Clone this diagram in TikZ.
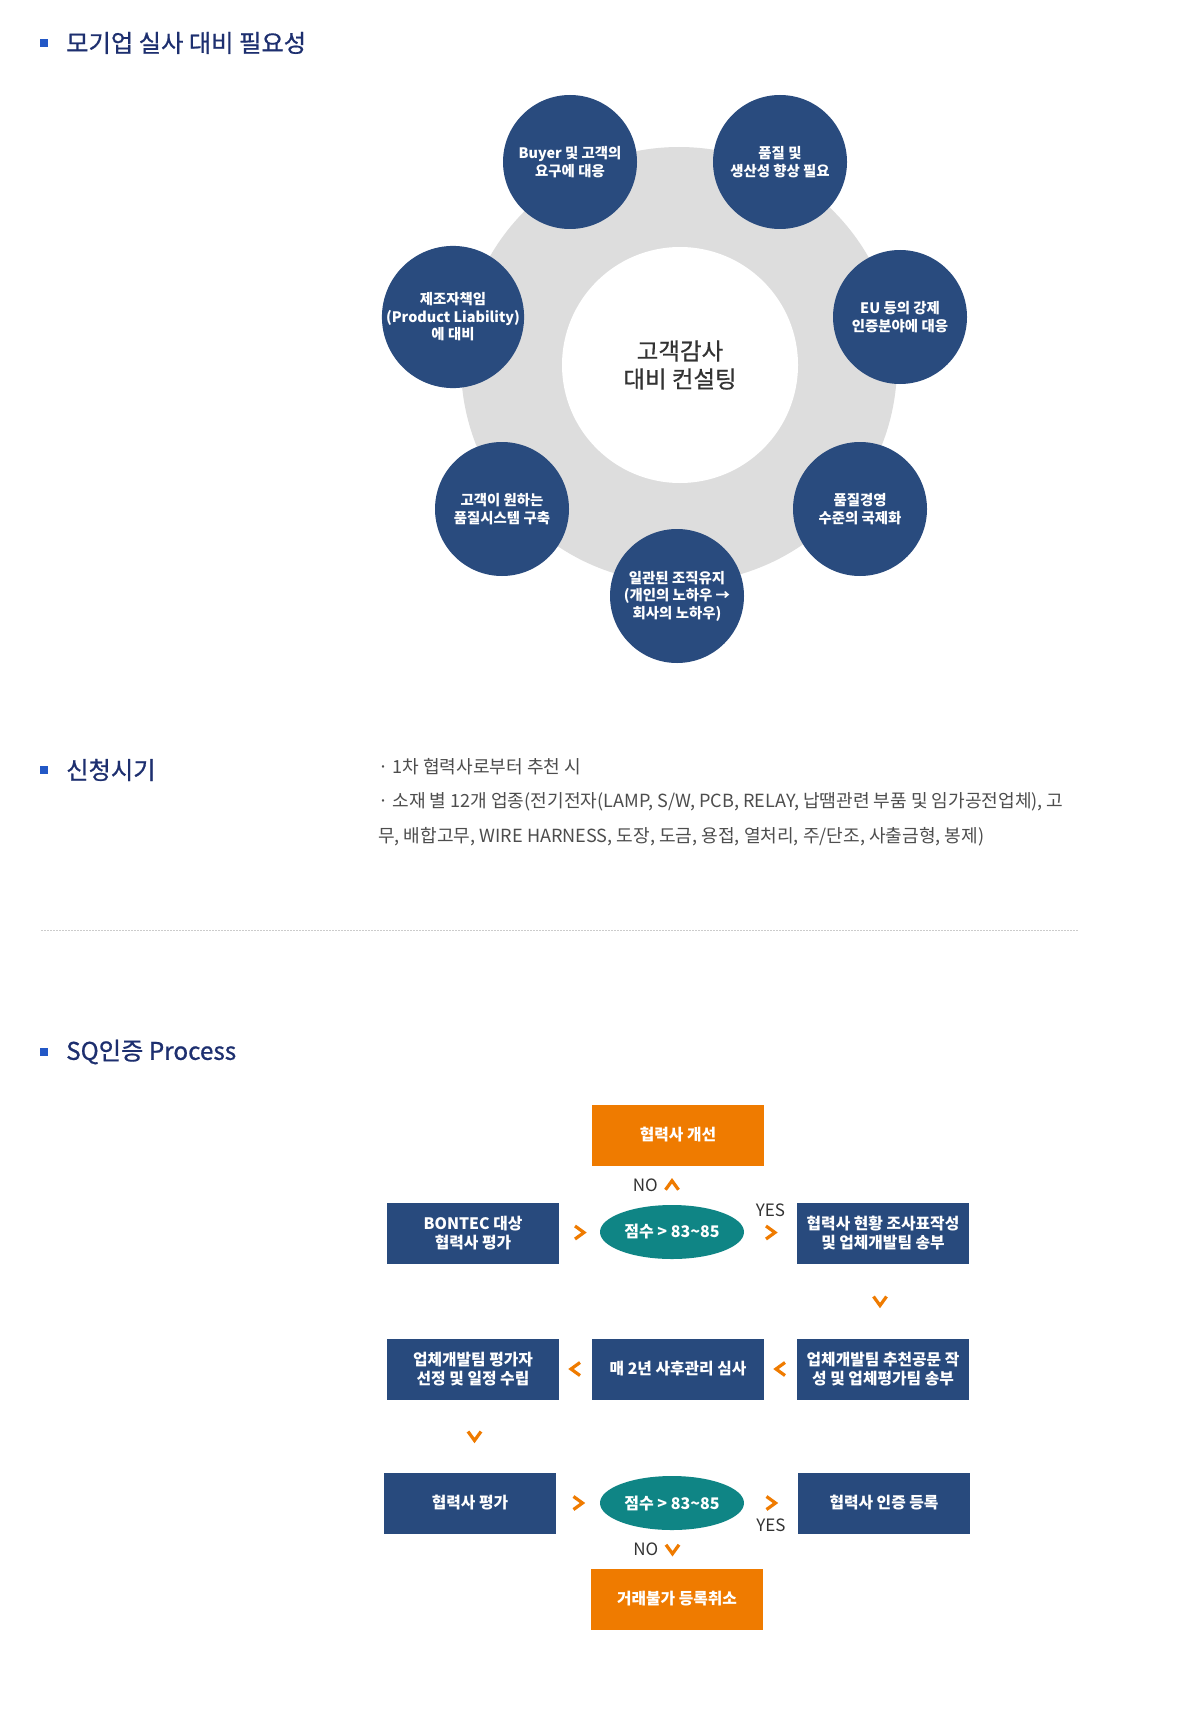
\documentclass[tikz,border=0pt]{standalone}
\usepackage{fontspec}
\setmainfont{Noto Sans CJK KR}
\newfontfamily\medfont{Noto Sans CJK KR}[FakeBold=0.7]
\usetikzlibrary{calc,shapes.geometric}
\definecolor{navy}{HTML}{294B7E}
\definecolor{boxblue}{HTML}{284A7D}
\definecolor{tealc}{HTML}{0F8585}
\definecolor{orangec}{HTML}{EF7B00}
\definecolor{ringgray}{HTML}{DDDDDD}
\definecolor{titlec}{HTML}{1D2F6F}
\definecolor{bulletc}{HTML}{2358C6}
\definecolor{bodyc}{HTML}{4D4D4D}
\definecolor{labc}{HTML}{333333}
\definecolor{dotc}{HTML}{CCCCCC}
\newcommand\setfs[2]{\fontsize{#1}{#2}\selectfont}
\tikzset{
  sat/.style={circle, fill=navy, minimum size=134pt, inner sep=0pt, text=white, font=\bfseries\setfs{14.4}{17.5}, align=center},
  fbox/.style={rectangle, fill=boxblue, minimum width=172pt, minimum height=61pt, inner sep=0pt, text=white, font=\bfseries\setfs{15.8}{19}, align=center},
  obox/.style={fbox, fill=orangec},
  score/.style={ellipse, fill=tealc, minimum width=144pt, minimum height=54pt, inner sep=0pt, text=white, font=\bfseries\setfs{16}{19}},
  lab/.style={text=labc, font=\setfs{17}{19}, inner sep=0pt},
  sectitle/.style={anchor=west, text=titlec, font=\medfont\setfs{24.3}{28}, inner sep=0pt},
  bullet/.style={rectangle, fill=bulletc, minimum size=8pt, inner sep=0pt},
  body/.style={anchor=west, text=bodyc, font=\setfs{18.1}{21}, inner sep=0pt},
  chev/.style={draw=orangec, line width=3.2pt, line join=miter, line cap=butt},
  rchev/.pic={\draw[chev] (-4.5pt,6.5pt) -- (4.5pt,0pt) -- (-4.5pt,-6.5pt);},
  lchev/.pic={\draw[chev] (4.5pt,6.5pt) -- (-4.5pt,0pt) -- (4.5pt,-6.5pt);},
  dchev/.pic={\draw[chev] (-6.5pt,4.5pt) -- (0pt,-4.5pt) -- (6.5pt,4.5pt);},
  uchev/.pic={\draw[chev] (-6.5pt,-4.5pt) -- (0pt,4.5pt) -- (6.5pt,-4.5pt);}
}
\begin{document}
\begin{tikzpicture}[x=1pt,y=-1pt]
\useasboundingbox[fill=white] (0,0) rectangle (1200,1720);

% ---------- Section 1 ----------
\node[bullet] (b1) at (44,43) {};
\node[sectitle] (t1) at (66,43) {모기업 실사 대비 필요성};

\node[circle, fill=ringgray, minimum size=436pt, inner sep=0pt] (ring) at (679,365) {};
\node[circle, fill=white, minimum size=236pt, inner sep=0pt, align=center, text=labc, font=\medfont\setfs{23.5}{28}] (hub) at (680,365) {고객감사\\대비 컨설팅};

\node[sat] (s1) at (677,596) {일관된 조직유지\\(개인의 노하우 →\\회사의 노하우)};
\node[sat] (s2) at (860,509) {품질경영\\수준의 국제화};
\node[sat] (s3) at (900,317) {EU 등의 강제\\인증분야에 대응};
\node[sat] (s4) at (780,162) {품질 및\\생산성 향상 필요};
\node[sat] (s5) at (570,162) {Buyer 및 고객의\\요구에 대응};
\node[sat] (s6) at (453,317) {제조자책임\\(Product Liability)\\에 대비};
\node[sat] (s7) at (502,509) {고객이 원하는\\품질시스템 구축};

% ---------- Section 2 ----------
\node[bullet] (b2) at (44,770) {};
\node[sectitle] (t2) at (66,770) {신청시기};
\node[body] (l1) at (378,767) {· 1차 협력사로부터 추천 시};
\node[body] (l2) at (378,802) {· 소재 별 12개 업종(전기전자(LAMP, S/W, PCB, RELAY, 납땜관련 부품 및 임가공전업체), 고};
\node[body] (l3) at (378,837) {무, 배합고무, WIRE HARNESS, 도장, 도금, 용접, 열처리, 주/단조, 사출금형, 봉제)};

\coordinate (d1) at (41,930);
\coordinate (d2) at (1078,930);
\draw[dotc, line width=0.8pt, dash pattern=on 1.5pt off 1.5pt] (d1) -- (d2);

% ---------- Section 3 ----------
\node[bullet] (b3) at (44,1052) {};
\node[sectitle] (t3) at (66,1052) {SQ인증 Process};

\node[obox] (imp) at (678,1135) {협력사 개선};
\node[fbox] (bon) at (473,1233) {BONTEC 대상\\협력사 평가};
\node[score] (e1) at (672,1232) {점수 > 83\textasciitilde 85};
\node[fbox] (cur) at (883,1233) {협력사 현황 조사표작성\\및 업체개발팀 송부};

\node[fbox] (sel) at (473,1369) {업체개발팀 평가자\\선정 및 일정 수립};
\node[fbox] (two) at (678,1369) {매 2년 사후관리 심사};
\node[fbox] (rec) at (883,1369) {업체개발팀 추천공문 작\\성 및 업체평가팀 송부};

\node[fbox] (eva) at (470,1503) {협력사 평가};
\node[score] (e2) at (672,1503) {점수 > 83\textasciitilde 85};
\node[fbox] (reg) at (884,1503) {협력사 인증 등록};

\node[obox] (can) at (677,1599) {거래불가 등록취소};

% chevrons
\pic at ($(bon.east)!0.5!(e1.west)$) {rchev};
\pic at ($(e1.east)!0.5!(cur.west)$) {rchev};
\pic at ($(cur.south)!0.5!(rec.north)+(-3pt,0pt)$) {dchev};
\pic at ($(two.east)!0.5!(rec.west)$) {lchev};
\pic at ($(sel.east)!0.5!(two.west)$) {lchev};
\pic at ($(sel.south)!0.5!(eva.north)+(3pt,0pt)$) {dchev};
\pic at ($(eva.east)!0.5!(e2.west)$) {rchev};
\pic at ($(e2.east)!0.5!(reg.west)$) {rchev};
\coordinate (nu) at ($(imp.south)!0.5!(e1.north)+(-3pt,0pt)$);
\pic at (nu) {uchev};
\coordinate (nd) at ($(e2.south)!0.5!(can.north)+(-2pt,0pt)$);
\pic at (nd) {dchev};

% labels
\node[lab, anchor=east] (no1) at ($(nu)+(-14pt,0pt)$) {NO};
\node[lab, anchor=east] (no2) at ($(nd)+(-14pt,0pt)$) {NO};
\node[lab] (yes1) at ($(e1.east)!0.5!(cur.west)+(0pt,22pt)$) {YES};
\node[lab] (yes2) at ($(e2.east)!0.5!(reg.west)+(0pt,-22pt)$) {YES};
\end{tikzpicture}
\end{document}
